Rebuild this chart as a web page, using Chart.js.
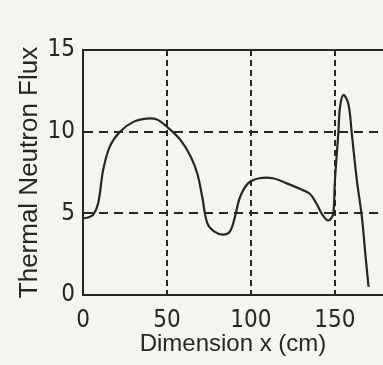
<!DOCTYPE html>
<html>
<head>
<meta charset="utf-8">
<script src="https://cdn.jsdelivr.net/npm/chart.js@4/dist/chart.umd.min.js"></script>
<style>
  html, body { margin: 0; padding: 0; background: #f4f4f1; overflow: hidden; }
  #wrap { width: 383px; height: 365px; }
</style>
</head>
<body>
<div id="wrap"><canvas id="fluxChart"></canvas></div>
<script>
// x in cm, thermal flux
const xPos = [0.5, 3, 6, 9, 12, 16, 22, 30, 38, 44, 50, 58, 64, 68, 71, 74, 78, 83.5, 87.5, 90.5,
  93.5, 98.4, 105, 113, 121, 129, 135, 139, 142, 145, 147, 149, 150, 152, 153, 155, 158, 160, 163, 166, 168, 170];
const flux = [4.7, 4.75, 4.9, 5.6, 7.65, 9.1, 10.0, 10.6, 10.8, 10.75, 10.3, 9.5, 8.5, 7.45, 6.0, 4.4, 3.9, 3.7, 3.9, 4.8,
  6.0, 6.85, 7.15, 7.15, 6.85, 6.5, 6.2, 5.6, 5.0, 4.6, 4.6, 5.0, 7.05, 9.9, 11.5, 12.25, 11.7, 9.9, 7.05, 4.8, 2.6, 0.5];
const xTicks = [0, 50, 100, 150];
const yTicks = [0, 5, 10, 15];

const points = xPos.map((x, i) => ({ x: x, y: flux[i] }));
const ink = '#262626';
const tickFont = { family: '"Liberation Sans Narrow", "DejaVu Sans Condensed", Arial, sans-serif', size: 24 };
const xTitleFont = { family: '"Liberation Sans", Arial, sans-serif', size: 24 };
const yTitleFont = { family: '"Liberation Sans", Arial, sans-serif', size: 26 };

// top edge of the frame
const topFrame = {
  id: 'topFrame',
  afterDraw(chart) {
    const a = chart.chartArea;
    const ctx = chart.ctx;
    ctx.save();
    ctx.strokeStyle = ink;
    ctx.lineWidth = 2;
    ctx.beginPath();
    ctx.moveTo(a.left - 1, a.top);
    ctx.lineTo(a.right, a.top);
    ctx.stroke();
    ctx.restore();
  }
};

new Chart(document.getElementById('fluxChart'), {
  type: 'line',
  data: {
    datasets: [{
      data: points,
      borderColor: ink,
      borderWidth: 2.2,
      pointRadius: 0,
      tension: 0.35,
      fill: false
    }]
  },
  options: {
    responsive: true,
    maintainAspectRatio: false,
    animation: false,
    layout: { padding: { top: 50, right: 0, left: 0, bottom: 0 } },
    plugins: { legend: { display: false }, tooltip: { enabled: false } },
    scales: {
      x: {
        type: 'linear',
        min: 0,
        max: 178.6,
        afterBuildTicks: (s) => { s.ticks = xTicks.map(v => ({ value: v })); },
        afterFit: (s) => { s.height = 70; },
        grid: {
          drawTicks: false,
          color: (c) => c.tick && c.tick.value === 0 ? 'transparent' : ink,
          lineWidth: 2
        },
        border: { display: true, color: ink, width: 2, dash: [6, 4] },
        ticks: { color: ink, font: tickFont, padding: 11, maxRotation: 0 },
        title: { display: true, text: 'Dimension x (cm)', color: ink, font: xTitleFont, padding: { top: 0, bottom: 6 } }
      },
      y: {
        min: 0,
        max: 15,
        afterBuildTicks: (s) => { s.ticks = yTicks.map(v => ({ value: v })); },
        afterFit: (s) => { s.width = 83; },
        grid: {
          drawTicks: false,
          color: (c) => c.tick && (c.tick.value === 0 || c.tick.value === 15) ? 'transparent' : ink,
          lineWidth: 2
        },
        border: { display: true, color: ink, width: 2, dash: [9, 6] },
        ticks: { color: ink, font: tickFont, padding: 8 },
        title: { display: true, text: 'Thermal Neutron Flux', color: ink, font: yTitleFont, padding: { top: 14, bottom: 0 } }
      }
    }
  },
  plugins: [topFrame]
});
</script>
</body>
</html>
